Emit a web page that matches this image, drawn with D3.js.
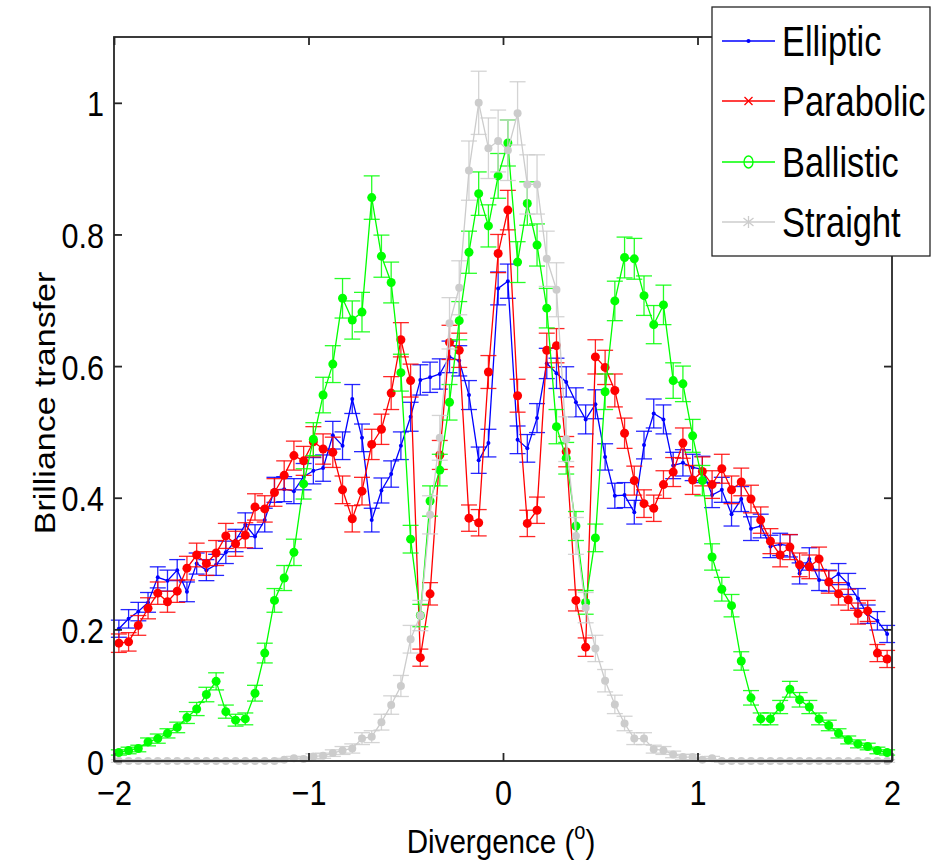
<!DOCTYPE html>
<html><head><meta charset="utf-8">
<script src="https://cdn.jsdelivr.net/npm/d3@7"></script>
<style>body{margin:0;background:#fff}svg{display:block}text{font-family:"Liberation Sans",Arial,Helvetica,sans-serif;fill:#000}</style>
</head><body>
<svg id="chart" width="936" height="862"></svg>
<script>
// x positions: bin centres, step 0.05
const xStart = -1.975, xStep = 0.05, nPts = 80;
const xTicks = [-2, -1, 0, 1, 2];
const yTicks = [0, 0.2, 0.4, 0.6, 0.8, 1];
const seriesNames = ["Elliptic", "Parabolic", "Ballistic", "Straight"];

const elliptic = [0.201,0.216,0.227,0.241,0.279,0.274,0.290,0.257,0.300,0.290,0.298,0.317,0.335,0.359,0.341,0.366,0.412,0.413,0.410,0.432,
0.441,0.445,0.495,0.479,0.550,0.491,0.366,0.411,0.436,0.479,0.523,0.579,0.583,0.588,0.614,0.608,0.556,0.457,0.483,0.718,
0.729,0.488,0.475,0.521,0.604,0.589,0.576,0.545,0.519,0.542,0.462,0.403,0.404,0.378,0.480,0.528,0.519,0.449,0.453,0.446,
0.443,0.404,0.412,0.375,0.398,0.353,0.357,0.326,0.329,0.327,0.285,0.307,0.275,0.274,0.284,0.269,0.247,0.223,0.213,0.193];
const ellipticErr = [0.013,0.014,0.014,0.015,0.016,0.016,0.016,0.015,0.016,0.016,0.016,0.017,0.017,0.018,0.018,0.018,0.019,0.019,0.019,0.020,
0.020,0.020,0.021,0.021,0.022,0.021,0.018,0.019,0.020,0.021,0.022,0.023,0.023,0.023,0.024,0.023,0.022,0.020,0.021,0.025,
0.026,0.021,0.021,0.022,0.023,0.023,0.023,0.022,0.022,0.022,0.020,0.019,0.019,0.018,0.021,0.022,0.022,0.020,0.020,0.020,
0.020,0.019,0.019,0.018,0.019,0.018,0.018,0.017,0.017,0.017,0.016,0.017,0.016,0.016,0.016,0.016,0.015,0.014,0.014,0.013];

const parabolic = [0.179,0.181,0.206,0.232,0.255,0.242,0.258,0.293,0.313,0.300,0.316,0.342,0.330,0.343,0.386,0.383,0.408,0.434,0.464,0.456,
0.485,0.474,0.469,0.412,0.368,0.410,0.481,0.504,0.559,0.640,0.578,0.157,0.254,0.465,0.636,0.624,0.369,0.362,0.591,0.771,
0.837,0.555,0.361,0.381,0.624,0.631,0.470,0.244,0.173,0.614,0.598,0.563,0.498,0.426,0.391,0.384,0.420,0.439,0.483,0.427,
0.440,0.420,0.444,0.412,0.424,0.398,0.366,0.334,0.313,0.325,0.298,0.295,0.307,0.272,0.254,0.245,0.224,0.228,0.164,0.155];
const parabolicErr = [0.014,0.014,0.015,0.016,0.017,0.016,0.017,0.018,0.018,0.018,0.019,0.019,0.019,0.019,0.020,0.020,0.021,0.022,0.022,0.022,
0.023,0.023,0.023,0.021,0.020,0.021,0.023,0.023,0.025,0.026,0.025,0.013,0.017,0.022,0.026,0.026,0.020,0.020,0.025,0.029,
0.030,0.025,0.020,0.020,0.026,0.026,0.023,0.016,0.014,0.026,0.026,0.025,0.023,0.022,0.021,0.020,0.021,0.022,0.023,0.022,
0.022,0.021,0.022,0.021,0.021,0.021,0.020,0.019,0.018,0.019,0.018,0.018,0.018,0.017,0.017,0.016,0.016,0.016,0.013,0.013];

const ballistic = [0.013,0.016,0.019,0.029,0.034,0.042,0.051,0.066,0.079,0.101,0.121,0.075,0.062,0.064,0.103,0.164,0.244,0.278,0.317,0.421,
0.489,0.556,0.603,0.703,0.670,0.682,0.856,0.767,0.727,0.590,0.337,0.221,0.395,0.442,0.545,0.669,0.773,0.862,0.813,0.889,
0.939,0.758,0.847,0.784,0.688,0.508,0.460,0.357,0.241,0.339,0.561,0.699,0.765,0.763,0.707,0.663,0.693,0.578,0.573,0.494,
0.426,0.310,0.261,0.236,0.152,0.096,0.064,0.064,0.082,0.109,0.093,0.082,0.064,0.054,0.042,0.032,0.026,0.022,0.016,0.013];
const ballisticErr = [0.004,0.005,0.005,0.006,0.007,0.007,0.008,0.009,0.010,0.011,0.013,0.010,0.009,0.009,0.012,0.015,0.018,0.019,0.020,0.023,
0.025,0.027,0.028,0.030,0.029,0.030,0.033,0.032,0.031,0.028,0.021,0.017,0.023,0.024,0.027,0.029,0.032,0.033,0.032,0.034,
0.035,0.031,0.033,0.032,0.030,0.026,0.024,0.022,0.018,0.021,0.027,0.030,0.031,0.031,0.030,0.029,0.030,0.027,0.027,0.025,
0.023,0.020,0.018,0.017,0.014,0.011,0.009,0.009,0.010,0.012,0.011,0.010,0.009,0.008,0.007,0.006,0.006,0.005,0.005,0.004];

const straight = [0,0,0,0,0,0,0,0,0,0,0,0,0,0,0,0,0,0.002,0.004,0.003,
0.007,0.008,0.012,0.016,0.019,0.034,0.037,0.059,0.085,0.114,0.185,0.221,0.374,0.491,0.665,0.719,0.897,1.000,0.931,0.942,
0.928,0.984,0.876,0.876,0.763,0.716,0.489,0.342,0.233,0.171,0.122,0.086,0.057,0.034,0.034,0.018,0.016,0.010,0.006,0.006,
0.002,0.004,0,0,0,0,0,0,0,0,0,0,0,0,0,0,0,0,0,0];
const straightErr = [0.002,0.002,0.002,0.002,0.002,0.002,0.002,0.002,0.002,0.002,0.002,0.002,0.002,0.002,0.002,0.002,0.002,0.002,0.003,0.003,
0.004,0.004,0.005,0.006,0.007,0.009,0.009,0.012,0.014,0.016,0.021,0.023,0.029,0.034,0.039,0.041,0.045,0.048,0.046,0.047,
0.046,0.048,0.045,0.045,0.042,0.041,0.034,0.028,0.023,0.020,0.017,0.014,0.011,0.009,0.009,0.006,0.006,0.005,0.004,0.004,
0.002,0.003,0.002,0.002,0.002,0.002,0.002,0.002,0.002,0.002,0.002,0.002,0.002,0.002,0.002,0.002,0.002,0.002,0.002,0.002];

const xs = d3.range(nPts).map(i => +(xStart + i * xStep).toFixed(3));

const series = [
  {name: seriesNames[0], vals: elliptic,  err: ellipticErr,  color: "#0000ff", r: 2,   marker: "dot"},
  {name: seriesNames[1], vals: parabolic, err: parabolicErr, color: "#ff0000", r: 4.5, marker: "x"},
  {name: seriesNames[2], vals: ballistic, err: ballisticErr, color: "#00ff00", r: 4.5, marker: "o"},
  {name: seriesNames[3], vals: straight,  err: straightErr,  color: "#cccccc", r: 4,   marker: "*"}
];

const svg = d3.select("#chart");
const L = 114, R = 892, T = 37, B = 761;
const x = d3.scaleLinear().domain([-2, 2]).range([L, R]);
const y = d3.scaleLinear().domain([0, 1.1]).range([B, T]);

const plot = svg.append("g");
const capW = 8;
series.forEach(s => {
  const g = plot.append("g");
  const pts = xs.map((xv, i) => ({x: xv, v: s.vals[i], e: s.err[i]}));
  const eb = g.append("g").attr("stroke", s.color).attr("stroke-width", 1.3).attr("stroke-opacity", 0.85);
  pts.forEach(p => {
    const cx = x(p.x), y1 = y(p.v + p.e), y0 = y(p.v - p.e);
    eb.append("line").attr("x1", cx).attr("x2", cx).attr("y1", y1).attr("y2", y0);
    eb.append("line").attr("x1", cx - capW).attr("x2", cx + capW).attr("y1", y1).attr("y2", y1);
    eb.append("line").attr("x1", cx - capW).attr("x2", cx + capW).attr("y1", y0).attr("y2", y0);
  });
  g.append("path").datum(pts)
    .attr("fill", "none").attr("stroke", s.color).attr("stroke-width", 1.3)
    .attr("d", d3.line().x(d => x(d.x)).y(d => y(d.v)));
  g.selectAll("circle").data(pts).join("circle")
    .attr("cx", d => x(d.x)).attr("cy", d => y(d.v)).attr("r", s.r).attr("fill", s.color);
});

// axes box
const axisColor = "#262626";
svg.append("rect").attr("x", L).attr("y", T).attr("width", R - L).attr("height", B - T)
  .attr("fill", "none").attr("stroke", axisColor).attr("stroke-width", 1.8);

const xAxisB = d3.axisBottom(x).tickValues(xTicks).tickSizeInner(-8).tickSizeOuter(0).tickFormat(d => d < 0 ? "\u2212" + Math.abs(d) : d);
const gxb = svg.append("g").attr("transform", `translate(0,${B})`).call(xAxisB);
const xAxisT = d3.axisTop(x).tickValues(xTicks).tickSizeInner(-8).tickSizeOuter(0).tickFormat("");
svg.append("g").attr("transform", `translate(0,${T})`).call(xAxisT);
const yAxisL = d3.axisLeft(y).tickValues(yTicks).tickSizeInner(-8).tickSizeOuter(0).tickFormat(d => d === 0 ? "0" : d === 1 ? "1" : d3.format(".1f")(d));
const gyl = svg.append("g").attr("transform", `translate(${L},0)`).call(yAxisL);
const yAxisR = d3.axisRight(y).tickValues(yTicks).tickSizeInner(-8).tickSizeOuter(0).tickFormat("");
svg.append("g").attr("transform", `translate(${R},0)`).call(yAxisR);
svg.selectAll(".domain").remove();
svg.selectAll(".tick line").attr("stroke", axisColor).attr("stroke-width", 1.8);

gxb.selectAll(".tick text").attr("font-size", 36).attr("fill", "#000")
  .attr("y", 0).attr("dy", 0)
  .attr("transform", "translate(0,44) scale(0.85,1)")
  .attr("text-anchor", "middle");
gyl.selectAll(".tick text").attr("font-size", 36).attr("fill", "#000")
  .attr("x", 0).attr("dy", 0)
  .attr("transform", "translate(-10,13) scale(0.85,1)")
  .attr("text-anchor", "end");
svg.selectAll(".tick text").attr("font-family", "'Liberation Sans', Arial, sans-serif");

// axis labels
const xl = svg.append("text").attr("transform", "translate(501,853) scale(0.87,1)")
  .attr("text-anchor", "middle").attr("font-size", 34);
xl.append("tspan").text("Divergence (");
xl.append("tspan").attr("font-size", 23).attr("dy", -14).text("o");
xl.append("tspan").attr("dy", 14).text(")");

svg.append("text").attr("transform", "translate(55,403) rotate(-90) scale(1,0.85)")
  .attr("text-anchor", "middle").attr("font-size", 34).text("Brilliance transfer");

// legend
const lg = svg.append("g");
lg.append("rect").attr("x", 712).attr("y", 7).attr("width", 218).attr("height", 249)
  .attr("fill", "#fff").attr("stroke", axisColor).attr("stroke-width", 1.3);
const legY = [41, 101, 162, 222];
series.forEach((s, i) => {
  const yy = legY[i];
  lg.append("line").attr("x1", 722).attr("x2", 775).attr("y1", yy).attr("y2", yy)
    .attr("stroke", s.color).attr("stroke-width", 1.3);
  const mx = 748.5;
  if (s.marker === "dot") {
    lg.append("circle").attr("cx", mx).attr("cy", yy).attr("r", 2).attr("fill", s.color);
  } else if (s.marker === "x") {
    lg.append("path").attr("d", `M${mx-4},${yy-4}L${mx+4},${yy+4}M${mx-4},${yy+4}L${mx+4},${yy-4}`)
      .attr("stroke", s.color).attr("stroke-width", 1.3);
  } else if (s.marker === "o") {
    lg.append("ellipse").attr("cx", mx).attr("cy", yy).attr("rx", 4.5).attr("ry", 6).attr("fill", "none")
      .attr("stroke", s.color).attr("stroke-width", 1.3);
  } else {
    lg.append("path").attr("d", `M${mx},${yy-6}L${mx},${yy+6}M${mx-5},${yy-4}L${mx+5},${yy+4}M${mx-5},${yy+4}L${mx+5},${yy-4}`)
      .attr("stroke", s.color).attr("stroke-width", 1.3);
  }
  lg.append("text").attr("transform", `translate(782,${yy + 15}) scale(0.82,1)`)
    .attr("font-size", 42).text(s.name);
});
</script>
</body></html>
